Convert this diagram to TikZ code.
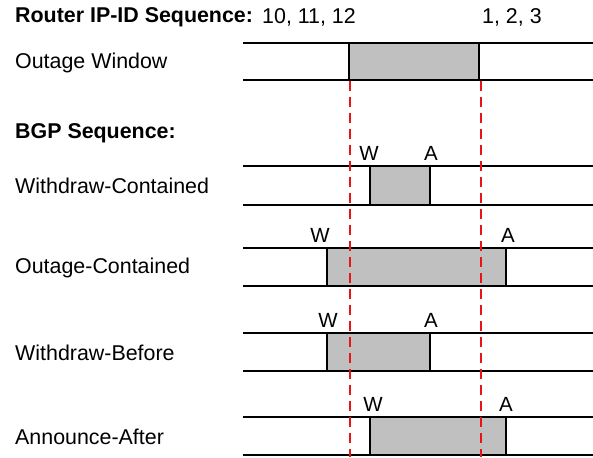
\documentclass[tikz,border=0pt]{standalone}
\usepackage{fontspec}
\setmainfont{Liberation Sans}
\definecolor{boxgray}{RGB}{192,192,192}
\definecolor{dashred}{RGB}{232,20,20}
\begin{document}
\begin{tikzpicture}[x=1pt,y=-1pt,
  lbl/.style={anchor=west,inner sep=0pt,font=\fontsize{21.4}{25}\selectfont},
  hdr/.style={anchor=west,inner sep=0pt,font=\fontsize{21.4}{25}\selectfont\bfseries},
  mk/.style={inner sep=0pt,font=\fontsize{20.5}{24}\selectfont},
  rail/.style={line width=1.9pt,black},
  winbox/.style={draw=black,line width=1.9pt,fill=boxgray},
  cut/.style={dashred,line width=1.9pt,dash pattern=on 10pt off 6pt}]
\useasboundingbox (0,0) rectangle (593,457);
% headers
\node[hdr] (h1) at (15,17) {Router IP-ID Sequence:};
\node[lbl] (s1) at (262,17) {10, 11, 12};
\node[lbl] (s2) at (482,17) {1, 2, 3};
\node[hdr] (h2) at (15,133) {BGP Sequence:};
% row labels
\node[lbl] (lOW) at (15,63) {Outage Window};
\node[lbl] (lWC) at (15,186) {Withdraw-Contained};
\node[lbl] (lOC) at (15,268) {Outage-Contained};
\node[lbl] (lWB) at (15,353) {Withdraw-Before};
\node[lbl] (lAA) at (15,437) {Announce-After};
% rows
\foreach \t/\b/\l/\r/\n in {43/80/349/479/OW,166/205/370/430/WC,248/286/327/506/OC,333/371/327/430/WB,417/455/370/506/AA}{
  \draw[winbox] (\l,\t) rectangle (\r,\b);
  \draw[rail] (243,\t) -- (593,\t);
  \draw[rail] (243,\b) -- (593,\b);
}
% W / A marks
\node[mk] (wWC) at (369,153) {W};
\node[mk] (aWC) at (431,153) {A};
\node[mk] (wOC) at (320,235) {W};
\node[mk] (aOC) at (508,235) {A};
\node[mk] (wWB) at (328,320) {W};
\node[mk] (aWB) at (431,320) {A};
\node[mk] (wAA) at (373,404) {W};
\node[mk] (aAA) at (506,404) {A};
% outage cut lines
\coordinate (c1t) at (350,81);
\coordinate (c1b) at (350,457);
\coordinate (c2t) at (481,81);
\coordinate (c2b) at (481,457);
\draw[cut] (c1t) -- (c1b);
\draw[cut] (c2t) -- (c2b);
\end{tikzpicture}
\end{document}
